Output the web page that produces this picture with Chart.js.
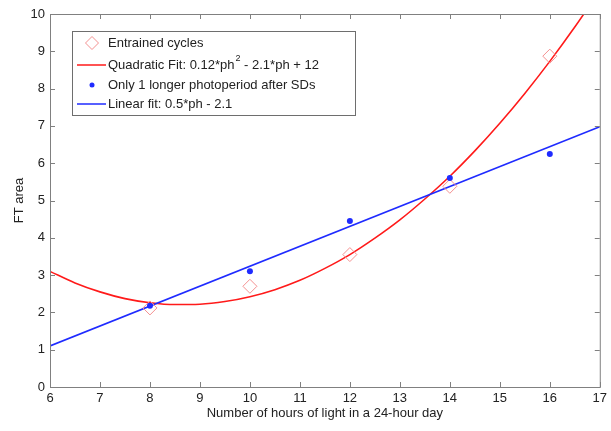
<!DOCTYPE html>
<html>
<head>
<meta charset="utf-8">
<script src="https://cdn.jsdelivr.net/npm/chart.js@4/dist/chart.umd.min.js"></script>
<style>
  html, body { margin: 0; padding: 0; background: #fff; }
  #wrap { width: 611px; height: 431px; position: relative; }
</style>
</head>
<body>
<div id="wrap"><canvas id="grafico" width="611" height="431"></canvas></div>
<script>
// ===== DADOS =====
const HORAS = [8, 10, 12, 14, 16];
const CICLOS_ENTRAINED = [2.12, 2.7, 3.55, 5.38, 8.87];
const UM_FOTOPERIODO = [2.18, 3.1, 4.45, 5.6, 6.25];

// curva quadratica lida ponto a ponto
const QUAD_X = [6, 6.5, 7, 7.5, 8, 8.5, 9, 9.5, 10, 10.5, 11, 11.5, 12, 12.5, 13, 13.5, 14, 14.5, 15, 15.5, 16, 16.5, 17];
const QUAD_Y = [3.1, 2.79, 2.55, 2.37, 2.26, 2.21, 2.22, 2.29, 2.42, 2.61, 2.86, 3.18, 3.55, 3.99, 4.48, 5.04, 5.65, 6.33, 7.07, 7.87, 8.73, 9.65, 10.63];

// reta linear
const LIN_X = [6, 17];
const LIN_Y = [1.1, 6.98];

const X_TICKS = [6, 7, 8, 9, 10, 11, 12, 13, 14, 15, 16, 17];
const Y_TICKS = [0, 1, 2, 3, 4, 5, 6, 7, 8, 9, 10];

const LEGENDA = [
  'Entrained cycles',
  'Quadratic Fit: 0.12*ph',
  'Only 1 longer photoperiod after SDs',
  'Linear fit: 0.5*ph - 2.1'
];

const FONTE = '"Liberation Sans", Arial, sans-serif';
const COR_TEXTO = '#222';
const COR_EIXO = '#808080';
const VERMELHO = '#ff1a1a';
const AZUL = '#1f2bff';
const ROSA = '#f49090';

const pts = (xs, ys) => xs.map((x, i) => ({ x, y: ys[i] }));

// ===== CAIXA + TICKS PARA DENTRO (estilo matlab) =====
const eixosPlugin = {
  id: 'eixos',
  afterDatasetsDraw(chart) {
    const { ctx, chartArea: a, scales } = chart;
    ctx.save();
    ctx.strokeStyle = COR_EIXO;
    ctx.lineWidth = 1;
    ctx.strokeRect(a.left + 0.5, a.top + 0.5, a.right - a.left, a.bottom - a.top);
    ctx.beginPath();
    X_TICKS.forEach(v => {
      const px = Math.round(scales.x.getPixelForValue(v)) + 0.5;
      ctx.moveTo(px, a.bottom); ctx.lineTo(px, a.bottom - 5);
      ctx.moveTo(px, a.top); ctx.lineTo(px, a.top + 5);
    });
    Y_TICKS.forEach(v => {
      const py = Math.round(scales.y.getPixelForValue(v)) + 0.5;
      ctx.moveTo(a.left, py); ctx.lineTo(a.left + 5, py);
      ctx.moveTo(a.right, py); ctx.lineTo(a.right - 5, py);
    });
    ctx.stroke();
    ctx.restore();
  }
};

// ===== LEGENDA =====
const legendaPlugin = {
  id: 'legendaBox',
  afterDraw(chart) {
    const ctx = chart.ctx;
    const x0 = 72, y0 = 31, w = 283, h = 84;
    ctx.save();
    ctx.fillStyle = '#fff';
    ctx.fillRect(x0, y0, w, h);
    ctx.strokeStyle = '#6e6e6e';
    ctx.lineWidth = 1;
    ctx.strokeRect(x0 + 0.5, y0 + 0.5, w, h);

    const linhas = [43, 65, 85, 104];
    const tx = 108, mx = 92;
    ctx.font = '13px ' + FONTE;
    ctx.fillStyle = COR_TEXTO;
    ctx.textBaseline = 'middle';

    // losango
    ctx.strokeStyle = ROSA;
    ctx.beginPath();
    ctx.moveTo(mx, linhas[0] - 6.5); ctx.lineTo(mx + 6.5, linhas[0]);
    ctx.lineTo(mx, linhas[0] + 6.5); ctx.lineTo(mx - 6.5, linhas[0]);
    ctx.closePath(); ctx.stroke();

    // linha vermelha
    ctx.strokeStyle = VERMELHO; ctx.lineWidth = 1.5;
    ctx.beginPath(); ctx.moveTo(77, linhas[1]); ctx.lineTo(106, linhas[1]); ctx.stroke();

    // ponto azul
    ctx.fillStyle = AZUL;
    ctx.beginPath(); ctx.arc(mx, linhas[2], 2.5, 0, Math.PI * 2); ctx.fill();

    // linha azul
    ctx.strokeStyle = AZUL;
    ctx.beginPath(); ctx.moveTo(77, linhas[3]); ctx.lineTo(106, linhas[3]); ctx.stroke();

    ctx.fillStyle = COR_TEXTO;
    ctx.fillText(LEGENDA[0], tx, linhas[0]);
    ctx.fillText(LEGENDA[1], tx, linhas[1]);
    let px = tx + ctx.measureText(LEGENDA[1]).width;
    ctx.font = '9px ' + FONTE;
    ctx.fillText('2', px + 1, linhas[1] - 6);
    px += 1 + ctx.measureText('2').width;
    ctx.font = '13px ' + FONTE;
    ctx.fillText(' - 2.1*ph + 12', px, linhas[1]);
    ctx.fillText(LEGENDA[2], tx, linhas[2]);
    ctx.fillText(LEGENDA[3], tx, linhas[3]);
    ctx.restore();
  }
};

// ===== GRAFICO =====
const ctx = document.getElementById('grafico').getContext('2d');
new Chart(ctx, {
  type: 'scatter',
  data: {
    datasets: [
      {
        label: 'Quadratic',
        data: pts(QUAD_X, QUAD_Y),
        showLine: true,
        borderColor: VERMELHO,
        borderWidth: 1.6,
        pointRadius: 0,
        tension: 0.4,
        cubicInterpolationMode: 'monotone',
        order: 3
      },
      {
        label: 'Linear',
        data: pts(LIN_X, LIN_Y),
        showLine: true,
        borderColor: AZUL,
        borderWidth: 1.6,
        pointRadius: 0,
        order: 2
      },
      {
        label: 'Entrained cycles',
        data: pts(HORAS, CICLOS_ENTRAINED),
        pointStyle: 'rectRot',
        pointRadius: 7,
        pointBorderColor: ROSA,
        pointBackgroundColor: 'rgba(0,0,0,0)',
        pointBorderWidth: 1,
        order: 1
      },
      {
        label: 'Only 1 longer photoperiod',
        data: pts(HORAS, UM_FOTOPERIODO),
        pointStyle: 'circle',
        pointRadius: 3,
        pointBorderWidth: 0,
        pointBackgroundColor: AZUL,
        order: 0
      }
    ]
  },
  options: {
    responsive: false,
    animation: false,
    devicePixelRatio: 1,
    layout: { padding: { top: 14, right: 9, left: 12, bottom: 10 } },
    plugins: { legend: { display: false }, tooltip: { enabled: false } },
    scales: {
      x: {
        type: 'linear', min: 6, max: 17,
        afterBuildTicks: s => { s.ticks = X_TICKS.map(v => ({ value: v })); },
        afterFit: s => { s.height = 34; },
        grid: { display: false, drawTicks: false },
        border: { display: false },
        ticks: { color: COR_TEXTO, font: { family: FONTE, size: 13 }, padding: 4, maxRotation: 0 },
        title: { display: true, text: 'Number of hours of light in a 24-hour day', color: COR_TEXTO,
                 font: { family: FONTE, size: 13 }, padding: { top: 0, bottom: 0 } }
      },
      y: {
        type: 'linear', min: 0, max: 10,
        afterBuildTicks: s => { s.ticks = Y_TICKS.map(v => ({ value: v })); },
        afterFit: s => { s.width = 38; },
        grid: { display: false, drawTicks: false },
        border: { display: false },
        ticks: { color: COR_TEXTO, font: { family: FONTE, size: 13 }, padding: 5 },
        title: { display: true, text: 'FT area', color: COR_TEXTO,
                 font: { family: FONTE, size: 13 }, padding: { top: 0, bottom: 4 } }
      }
    }
  },
  plugins: [eixosPlugin, legendaPlugin]
});
</script>
</body>
</html>
